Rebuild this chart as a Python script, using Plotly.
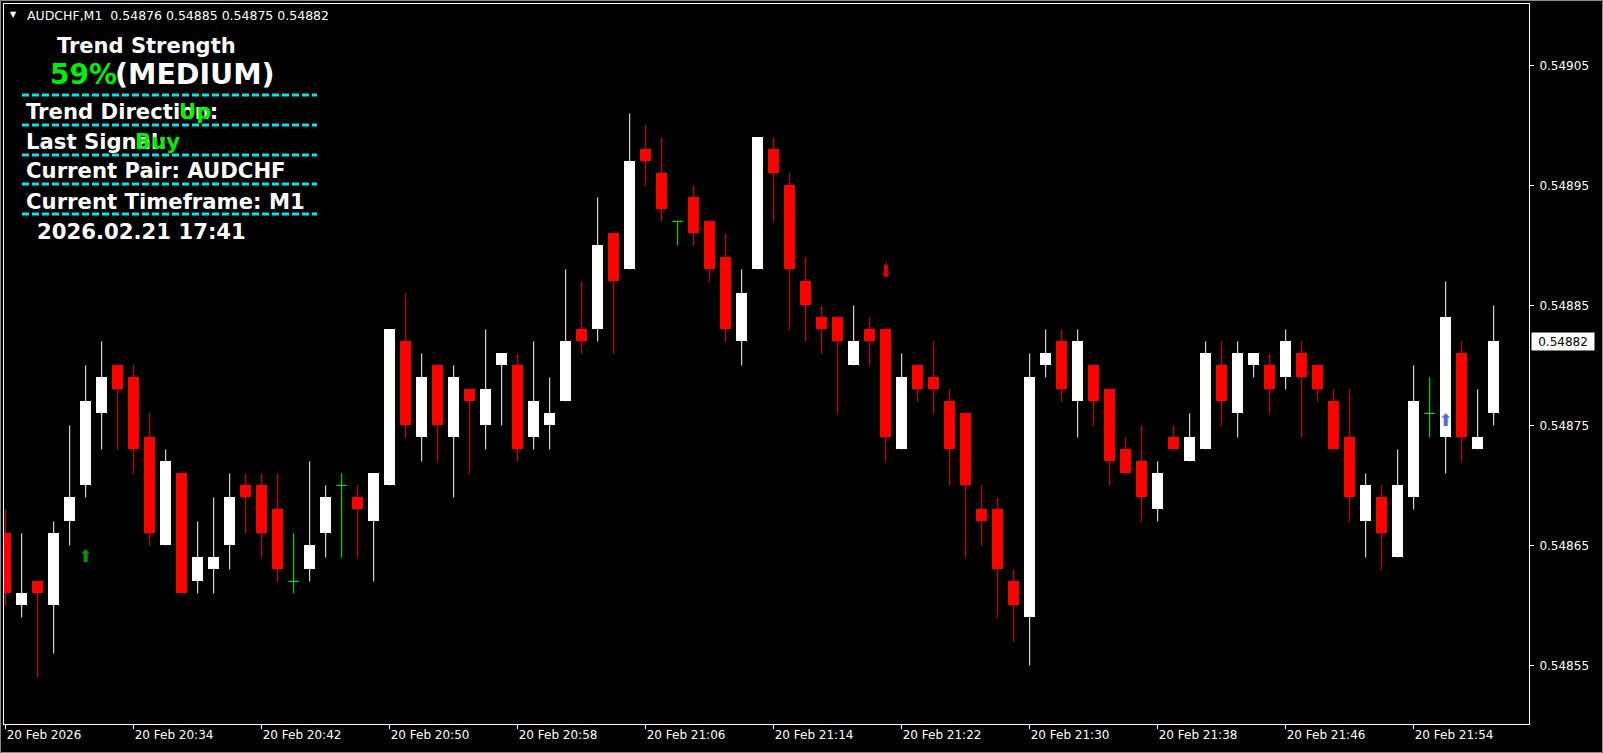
import plotly.graph_objects as go

# ---------------- data (AUDCHF, M1, 20 Feb 20:26 .. 21:59) ----------------
opens = [0.54866, 0.54860, 0.54862, 0.54860, 0.54867, 0.54870, 0.54876, 0.54880, 0.54879, 0.54874,
         0.54865, 0.54871, 0.54862, 0.54863, 0.54865, 0.54870, 0.54870, 0.54868, 0.54862, 0.54863,
         0.54866, 0.54870, 0.54869, 0.54867, 0.54870, 0.54882, 0.54874, 0.54880, 0.54874, 0.54878,
         0.54875, 0.54880, 0.54880, 0.54874, 0.54875, 0.54877, 0.54883, 0.54883, 0.54891, 0.54888,
         0.54898, 0.54896, 0.54892, 0.54894, 0.54892, 0.54889, 0.54882, 0.54888, 0.54898, 0.54895,
         0.54887, 0.54884, 0.54884, 0.54880, 0.54883, 0.54883, 0.54873, 0.54880, 0.54879, 0.54877,
         0.54876, 0.54868, 0.54868, 0.54862, 0.54859, 0.54880, 0.54882, 0.54877, 0.54880, 0.54878,
         0.54873, 0.54872, 0.54868, 0.54874, 0.54872, 0.54873, 0.54880, 0.54876, 0.54880, 0.54880,
         0.54879, 0.54881, 0.54880, 0.54877, 0.54874, 0.54867, 0.54869, 0.54864, 0.54869, 0.54876,
         0.54874, 0.54881, 0.54873, 0.54876]
highs = [0.54868, 0.54866, 0.54862, 0.54867, 0.54875, 0.54880, 0.54882, 0.54880, 0.54880, 0.54876,
         0.54873, 0.54871, 0.54867, 0.54869, 0.54871, 0.54871, 0.54871, 0.54871, 0.54866, 0.54872,
         0.54870, 0.54871, 0.54870, 0.54871, 0.54883, 0.54886, 0.54881, 0.54880, 0.54880, 0.54878,
         0.54883, 0.54881, 0.54881, 0.54882, 0.54879, 0.54888, 0.54887, 0.54894, 0.54891, 0.54901,
         0.54900, 0.54899, 0.54892, 0.54895, 0.54892, 0.54891, 0.54888, 0.54899, 0.54899, 0.54896,
         0.54889, 0.54885, 0.54884, 0.54885, 0.54884, 0.54883, 0.54881, 0.54880, 0.54882, 0.54878,
         0.54876, 0.54870, 0.54869, 0.54863, 0.54881, 0.54883, 0.54883, 0.54883, 0.54880, 0.54878,
         0.54874, 0.54875, 0.54872, 0.54875, 0.54876, 0.54882, 0.54882, 0.54882, 0.54881, 0.54881,
         0.54883, 0.54882, 0.54880, 0.54878, 0.54878, 0.54871, 0.54870, 0.54873, 0.54880, 0.54879,
         0.54887, 0.54882, 0.54878, 0.54885]
lows = [0.54860, 0.54859, 0.54854, 0.54856, 0.54865, 0.54869, 0.54873, 0.54873, 0.54871, 0.54865,
        0.54865, 0.54861, 0.54861, 0.54861, 0.54863, 0.54866, 0.54864, 0.54862, 0.54861, 0.54862,
        0.54864, 0.54864, 0.54864, 0.54862, 0.54870, 0.54874, 0.54872, 0.54872, 0.54869, 0.54871,
        0.54873, 0.54875, 0.54872, 0.54873, 0.54873, 0.54877, 0.54881, 0.54882, 0.54881, 0.54888,
        0.54895, 0.54892, 0.54890, 0.54890, 0.54887, 0.54882, 0.54880, 0.54888, 0.54892, 0.54883,
        0.54882, 0.54881, 0.54876, 0.54880, 0.54880, 0.54872, 0.54873, 0.54877, 0.54876, 0.54870,
        0.54864, 0.54865, 0.54859, 0.54857, 0.54855, 0.54879, 0.54877, 0.54874, 0.54875, 0.54870,
        0.54871, 0.54867, 0.54867, 0.54873, 0.54872, 0.54873, 0.54875, 0.54874, 0.54879, 0.54876,
        0.54878, 0.54874, 0.54877, 0.54873, 0.54867, 0.54864, 0.54863, 0.54864, 0.54868, 0.54874,
        0.54871, 0.54872, 0.54873, 0.54875]
closes = [0.54861, 0.54861, 0.54861, 0.54866, 0.54869, 0.54877, 0.54879, 0.54878, 0.54873, 0.54866,
          0.54872, 0.54861, 0.54864, 0.54864, 0.54869, 0.54869, 0.54866, 0.54863, 0.54862, 0.54865,
          0.54869, 0.54870, 0.54868, 0.54871, 0.54883, 0.54875, 0.54879, 0.54875, 0.54879, 0.54877,
          0.54878, 0.54881, 0.54873, 0.54877, 0.54876, 0.54882, 0.54882, 0.54890, 0.54887, 0.54897,
          0.54897, 0.54893, 0.54892, 0.54891, 0.54888, 0.54883, 0.54886, 0.54899, 0.54896, 0.54888,
          0.54885, 0.54883, 0.54882, 0.54882, 0.54882, 0.54874, 0.54879, 0.54878, 0.54878, 0.54873,
          0.54870, 0.54867, 0.54863, 0.54860, 0.54879, 0.54881, 0.54878, 0.54882, 0.54877, 0.54872,
          0.54871, 0.54869, 0.54871, 0.54873, 0.54874, 0.54881, 0.54877, 0.54881, 0.54881, 0.54878,
          0.54882, 0.54879, 0.54878, 0.54873, 0.54869, 0.54870, 0.54866, 0.54870, 0.54877, 0.54876,
          0.54884, 0.54874, 0.54874, 0.54882]

tick_idx = [0, 8, 16, 24, 32, 40, 48, 56, 64, 72, 80, 88]
tick_labels = ["20 Feb 2026", "20 Feb 20:34", "20 Feb 20:42", "20 Feb 20:50", "20 Feb 20:58",
               "20 Feb 21:06", "20 Feb 21:14", "20 Feb 21:22", "20 Feb 21:30", "20 Feb 21:38",
               "20 Feb 21:46", "20 Feb 21:54"]
price_ticks = [0.54855, 0.54865, 0.54875, 0.54885, 0.54895, 0.54905]

# indicator arrows: bar index, price, glyph, colour
arrow_idx = [5, 55, 90]
arrow_price = [0.548640, 0.548877, 0.548753]
arrow_glyph = ["⬆", "⬇", "⬆"]
arrow_color = ["#009a00", "#e00000", "#4a6ee8"]

symbol = "AUDCHF"
timeframe = "M1"
strength = 59
strength_word = "MEDIUM"
direction = "Up"
last_signal = "Buy"
stamp = "2026.02.21 17:41"

# ---------------- figure ----------------
W, H = 1603, 753
L, R, T, B = 4, 74, 4, 29
PW, PH = W - L - R, H - T - B
BAR_PX = 16.0
x0 = -1.7 / BAR_PX
x1 = x0 + PW / BAR_PX
y_top = 0.54905 + 61.4 / 1.2e6
y_bot = y_top - PH / 1.2e6

def pxx(v):
    return (v - L) / PW

def pxy(v):
    return (T + PH - v) / PH

BULL, BEAR, DOJI = "#ffffff", "#ff0000", "#00ff00"
n = len(opens)
idx = list(range(n))

fig = go.Figure()

# wicks
for colr, cond in ((BULL, lambda o, c: c > o), (BEAR, lambda o, c: c < o), (DOJI, lambda o, c: c == o)):
    xs, ys = [], []
    for i in idx:
        if cond(opens[i], closes[i]):
            xs += [i, i, None]
            ys += [lows[i], highs[i], None]
    fig.add_trace(go.Scatter(x=xs, y=ys, mode="lines", line=dict(color=colr, width=1),
                             hoverinfo="skip", showlegend=False))

# bodies
for colr, cond in ((BULL, lambda o, c: c > o), (BEAR, lambda o, c: c < o)):
    bx, bb, bh = [], [], []
    for i in idx:
        if cond(opens[i], closes[i]):
            bx.append(i)
            bb.append(min(opens[i], closes[i]))
            bh.append(abs(closes[i] - opens[i]))
    fig.add_trace(go.Bar(x=bx, y=bh, base=bb, width=0.6875, marker=dict(color=colr, line=dict(width=0)),
                         hoverinfo="skip", showlegend=False))

# doji horizontal ticks
dx, dy = [], []
for i in idx:
    if opens[i] == closes[i]:
        dx += [i - 0.34, i + 0.34, None]
        dy += [closes[i], closes[i], None]
fig.add_trace(go.Scatter(x=dx, y=dy, mode="lines", line=dict(color=DOJI, width=1),
                         hoverinfo="skip", showlegend=False))

# arrows
for i, p, g, c in zip(arrow_idx, arrow_price, arrow_glyph, arrow_color):
    fig.add_trace(go.Scatter(x=[i], y=[p], mode="text", text=[g],
                             textfont=dict(family="DejaVu Sans", size=17, color=c),
                             hoverinfo="skip", showlegend=False))

fig.update_layout(
    width=W, height=H,
    margin=dict(l=L, r=R, t=T, b=B, pad=0),
    paper_bgcolor="#000000", plot_bgcolor="#000000",
    barmode="overlay", bargap=0,
    showlegend=False,
    font=dict(family="DejaVu Sans", color="#ffffff", size=12),
    xaxis=dict(range=[x0, x1], showgrid=False, zeroline=False,
               tickmode="array", tickvals=tick_idx, ticktext=tick_labels,
               ticks="outside", ticklen=4, tickcolor="#ffffff", tickwidth=1,
               ticklabelposition="outside right",
               tickfont=dict(family="DejaVu Sans", size=12, color="#ffffff"),
               showline=True, linecolor="#ffffff", linewidth=1, mirror=True),
    yaxis=dict(range=[y_bot, y_top], side="right", showgrid=False, zeroline=False,
               tickmode="array", tickvals=price_ticks, ticktext=[f"{v:.5f}" for v in price_ticks],
               ticks="outside", ticklen=4, tickcolor="#ffffff", tickwidth=1,
               ticklabelstandoff=3,
               tickfont=dict(family="DejaVu Sans", size=12, color="#ffffff"),
               showline=True, linecolor="#ffffff", linewidth=1, mirror=True),
)

# window border
fig.add_shape(type="rect", xref="paper", yref="paper", x0=pxx(0.5), x1=pxx(W - 0.5), y0=pxy(H - 0.5), y1=pxy(0.5),
              line=dict(color="#8a8a8a", width=1), layer="above")

# current price label
fig.add_annotation(xref="paper", yref="y", x=pxx(1531), y=closes[-1], xanchor="left", yanchor="middle",
                   text=f"{closes[-1]:.5f}", showarrow=False, bgcolor="#ffffff", borderpad=1,
                   width=60, height=15, align="center",
                   font=dict(family="DejaVu Sans", size=12, color="#000000"))

# header
hdr = f"{symbol},{timeframe}\u00a0\u00a0{opens[-1]:.5f} {highs[-1]:.5f} {lows[-1]:.5f} {closes[-1]:.5f}"
fig.add_annotation(xref="paper", yref="paper", x=pxx(8), y=pxy(15), xanchor="left", yanchor="middle",
                   text="▼", showarrow=False, font=dict(family="DejaVu Sans", size=8, color="#ffffff"))
fig.add_annotation(xref="paper", yref="paper", x=pxx(25), y=pxy(15.5), xanchor="left", yanchor="middle",
                   text=hdr, showarrow=False, font=dict(family="DejaVu Sans", size=12.5, color="#ffffff"))

def txt(x, y, s, size, color="#ffffff"):
    fig.add_annotation(xref="paper", yref="paper", x=pxx(x), y=pxy(y), xanchor="left", yanchor="middle",
                       text=s, showarrow=False,
                       font=dict(family="DejaVu Sans", size=size, color=color, weight="bold"))

GREEN = "#00f000"
FS = 21.2
txt(55, 46, "Trend Strength", 21)
txt(48, 75, f"{strength}%", 28, GREEN)
txt(113, 75, f"({strength_word})", 28.5)
txt(24, 111, "Trend Direction:", FS)
txt(177, 111, direction, FS, GREEN)
txt(24, 141, "Last Signal:", FS)
txt(133, 141, last_signal, FS, GREEN)
txt(24, 171, f"Current Pair: {symbol}", FS)
txt(24, 201, f"Current Timeframe: {timeframe}", FS)
txt(35, 231, stamp, FS)

for yy in [95, 125, 155, 184, 214]:
    fig.add_shape(type="line", xref="paper", yref="paper", x0=pxx(22), x1=pxx(317), y0=pxy(yy), y1=pxy(yy),
                  line=dict(color="#00e5ee", width=3, dash="7px,3px"))

fig.write_html("out.html", config={"displayModeBar": False},
               post_script="document.body.style.margin='0';document.body.style.overflow='hidden';")
